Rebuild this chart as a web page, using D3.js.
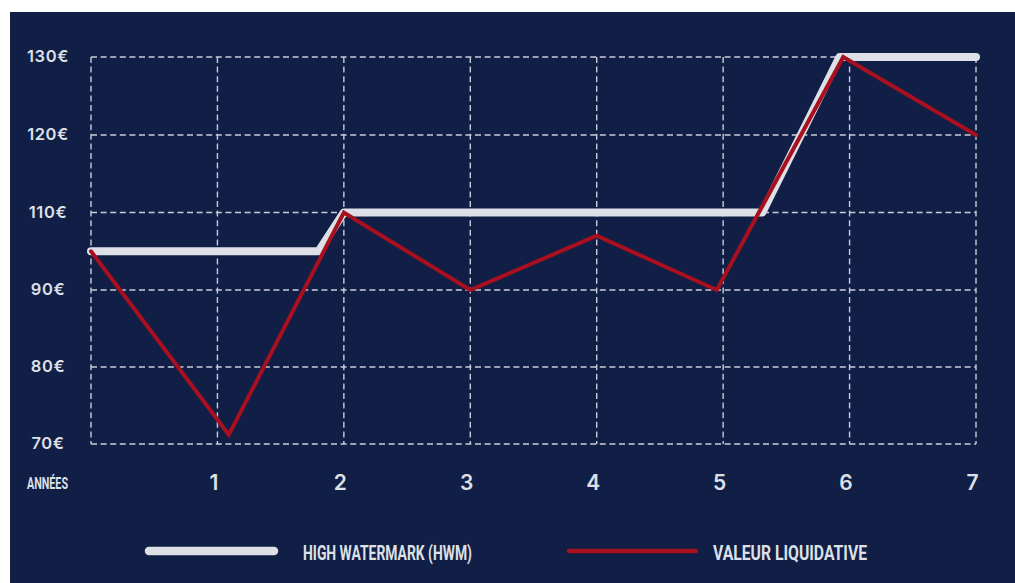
<!DOCTYPE html>
<html>
<head>
<meta charset="utf-8">
<script src="https://cdn.jsdelivr.net/npm/d3@7"></script>
<style>
  html, body { margin: 0; padding: 0; background: #ffffff; }
  svg { display: block; }
</style>
</head>
<body>
<div id="chart"></div>
<script>
// ---- data ----
const yTickValues = [70, 80, 90, 110, 120, 130];
const yTickLabels = ["70€", "80€", "90€", "110€", "120€", "130€"];
const xTickValues = [1, 2, 3, 4, 5, 6, 7];
const xAxisTitle = "ANNÉES";

const hwmYears  = [0, 1.8, 2, 5.31, 5.92, 7];
const hwmValues = [100, 100, 110, 110, 130, 130];

const navYears  = [0, 1.09, 2, 3, 4, 4.95, 5.95, 7];
const navValues = [100, 71.2, 110, 90, 104, 90, 130, 120];

const legendLabels = ["HIGH WATERMARK (HWM)", "VALEUR LIQUIDATIVE"];

// ---- layout ----
const W = 1015, H = 583;
const bg = "#111e45";
const gridColor = "#c9cdd8";
const textColor = "#dde0e7";
const hwmColor = "#dde0e6";
const navColor = "#a8101f";

const svg = d3.select("#chart").append("svg")
  .attr("width", W).attr("height", H);

svg.append("rect").attr("x", 10).attr("y", 12)
  .attr("width", W - 10).attr("height", H - 12).attr("fill", bg);

const x = d3.scaleLinear().domain([0, 7]).range([91, 976]);
// piecewise scale: ticks evenly spaced (note 100 is not a gridline)
const y = d3.scaleLinear().domain(yTickValues).range([444, 367, 290, 212.5, 135, 57]);

// grid
const grid = svg.append("g")
  .attr("stroke", gridColor).attr("stroke-width", 1.4)
  .attr("stroke-dasharray", "6,3.6").attr("fill", "none");

grid.selectAll("line.h").data(yTickValues).join("line")
  .attr("class", "h")
  .attr("x1", x(0)).attr("x2", x(7))
  .attr("y1", d => y(d)).attr("y2", d => y(d));

grid.selectAll("line.v").data([0].concat(xTickValues)).join("line")
  .attr("class", "v")
  .attr("x1", d => x(d)).attr("x2", d => x(d))
  .attr("y1", y(130)).attr("y2", y(70));

// y axis labels
const yAxis = d3.axisLeft(y).tickValues(yTickValues).tickSize(0)
  .tickFormat((d, i) => yTickLabels[i]);
const yG = svg.append("g").attr("transform", "translate(48,0)").call(yAxis);
yG.select(".domain").remove();
yG.selectAll("text")
  .attr("x", 0).attr("dy", "0.3em")
  .attr("text-anchor", "middle")
  .attr("fill", textColor)
  .attr("font-family", "Inter, 'Open Sans', sans-serif")
  .attr("font-weight", 600)
  .attr("font-size", 16.5)
  .attr("letter-spacing", "0.6px");

// x axis labels
const xAxis = d3.axisBottom(x).tickValues(xTickValues).tickSize(0).tickFormat(d3.format("d"));
const xG = svg.append("g").attr("transform", "translate(-4,482)").call(xAxis);
xG.select(".domain").remove();
xG.selectAll("text")
  .attr("y", 0).attr("dy", "0.36em")
  .attr("fill", textColor)
  .attr("font-family", "Inter, 'Open Sans', sans-serif")
  .attr("font-weight", 600)
  .attr("font-size", 21);

svg.append("text")
  .attr("x", 27).attr("y", 489)
  .attr("textLength", 41).attr("lengthAdjust", "spacingAndGlyphs")
  .attr("fill", textColor)
  .attr("font-family", "Roboto, sans-serif")
  .attr("font-weight", 700)
  .attr("font-size", 16)
  .text(xAxisTitle);

// lines
const line = d3.line().x(d => x(d[0])).y(d => y(d[1]));

svg.append("path")
  .datum(hwmYears.map((t, i) => [t, hwmValues[i]]))
  .attr("d", line)
  .attr("fill", "none").attr("stroke", hwmColor)
  .attr("stroke-width", 8).attr("stroke-linejoin", "round").attr("stroke-linecap", "round");

svg.append("path")
  .datum(navYears.map((t, i) => [t, navValues[i]]))
  .attr("d", line)
  .attr("fill", "none").attr("stroke", navColor)
  .attr("stroke-width", 4).attr("stroke-linejoin", "miter").attr("stroke-linecap", "round");

// legend
const legend = svg.append("g");
legend.append("line")
  .attr("x1", 149).attr("x2", 274).attr("y1", 551).attr("y2", 551)
  .attr("stroke", hwmColor).attr("stroke-width", 8.5).attr("stroke-linecap", "round");
legend.append("text")
  .attr("x", 303).attr("y", 559.5)
  .attr("textLength", 169).attr("lengthAdjust", "spacingAndGlyphs")
  .attr("fill", textColor)
  .attr("font-family", "Roboto, sans-serif").attr("font-weight", 700).attr("font-size", 21)
  .text(legendLabels[0]);
legend.append("line")
  .attr("x1", 569).attr("x2", 696).attr("y1", 551).attr("y2", 551)
  .attr("stroke", navColor).attr("stroke-width", 4.5).attr("stroke-linecap", "round");
legend.append("text")
  .attr("x", 713).attr("y", 559.5)
  .attr("textLength", 154).attr("lengthAdjust", "spacingAndGlyphs")
  .attr("fill", textColor)
  .attr("font-family", "Roboto, sans-serif").attr("font-weight", 700).attr("font-size", 21)
  .text(legendLabels[1]);
</script>
</body>
</html>
